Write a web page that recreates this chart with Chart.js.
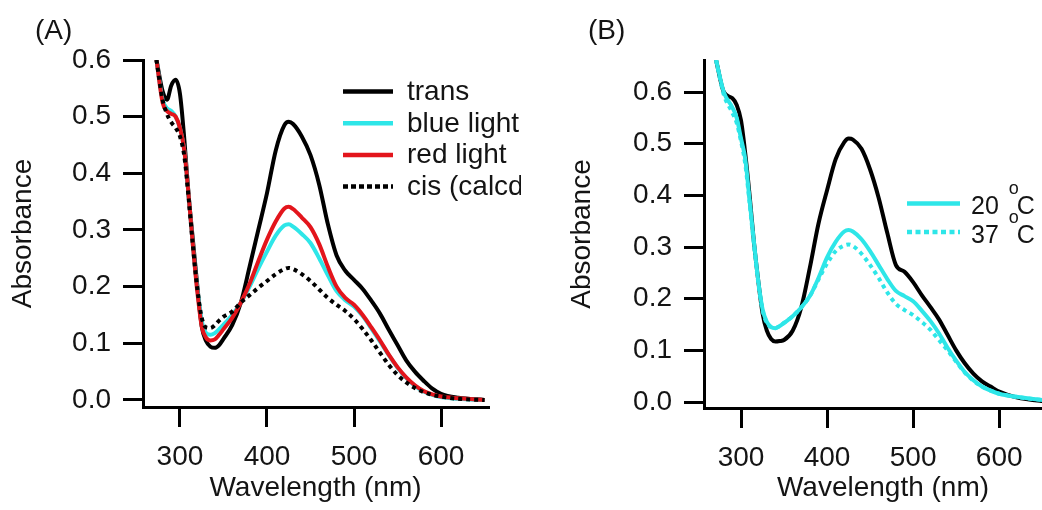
<!DOCTYPE html>
<html>
<head>
<meta charset="utf-8">
<script src="https://cdn.jsdelivr.net/npm/chart.js@4"></script>
<style>
  html, body { margin: 0; padding: 0; background: #fff; overflow: hidden; }
  body { width: 1042px; height: 510px; position: relative; }
  .panel { position: absolute; top: 0; height: 510px; }
  #wrapA { left: 0; width: 521px; }
  #wrapB { left: 521px; width: 541px; }
</style>
</head>
<body>
<div class="panel" id="wrapA"><canvas id="chartA"></canvas></div>
<div class="panel" id="wrapB"><canvas id="chartB"></canvas></div>
<script>
// panel (A): spectra after light treatment
var wavelengthA = [273, 280, 285, 290, 295, 300, 305, 310, 315, 320, 325, 330, 335, 340, 345, 350, 360, 370, 380, 390, 400, 410, 420, 425, 430, 440, 450, 460, 470, 480, 490, 500, 510, 520, 530, 540, 550, 560, 570, 580, 590, 600, 620, 650];
var transA     = [0.60, 0.545, 0.53, 0.555, 0.565, 0.54, 0.46, 0.36, 0.28, 0.20, 0.13, 0.104, 0.094, 0.092, 0.097, 0.108, 0.132, 0.172, 0.235, 0.30, 0.365, 0.44, 0.485, 0.491, 0.487, 0.465, 0.432, 0.38, 0.31, 0.255, 0.228, 0.212, 0.196, 0.175, 0.152, 0.124, 0.097, 0.07, 0.05, 0.034, 0.02, 0.011, 0.004, 0.0];
var blueLightA = [0.60, 0.53, 0.515, 0.51, 0.50, 0.48, 0.44, 0.36, 0.27, 0.195, 0.14, 0.118, 0.115, 0.118, 0.125, 0.133, 0.15, 0.172, 0.20, 0.232, 0.262, 0.29, 0.308, 0.31, 0.306, 0.293, 0.277, 0.25, 0.22, 0.192, 0.176, 0.165, 0.148, 0.126, 0.103, 0.079, 0.057, 0.039, 0.025, 0.015, 0.009, 0.005, 0.002, 0.0];
var redLightA  = [0.60, 0.525, 0.51, 0.505, 0.50, 0.48, 0.44, 0.36, 0.27, 0.19, 0.13, 0.11, 0.105, 0.107, 0.115, 0.125, 0.145, 0.172, 0.205, 0.245, 0.283, 0.315, 0.338, 0.341, 0.337, 0.322, 0.305, 0.275, 0.235, 0.20, 0.18, 0.168, 0.15, 0.128, 0.105, 0.08, 0.058, 0.04, 0.026, 0.016, 0.01, 0.006, 0.003, 0.0];
var cisCalcdA  = [0.60, 0.53, 0.505, 0.49, 0.48, 0.465, 0.43, 0.355, 0.27, 0.195, 0.145, 0.128, 0.127, 0.132, 0.14, 0.147, 0.156, 0.172, 0.185, 0.198, 0.21, 0.222, 0.231, 0.233, 0.231, 0.222, 0.21, 0.195, 0.18, 0.168, 0.157, 0.143, 0.125, 0.105, 0.083, 0.062, 0.044, 0.031, 0.021, 0.014, 0.009, 0.006, 0.002, 0.0];

// panel (B): temperature
var wavelengthB = [271, 280, 290, 295, 300, 305, 310, 315, 320, 325, 330, 335, 340, 345, 350, 360, 370, 380, 390, 400, 410, 420, 425, 430, 440, 450, 460, 470, 480, 490, 500, 510, 520, 530, 540, 550, 560, 570, 580, 590, 600, 620, 650, 660, 675];
var transB  = [0.662, 0.60, 0.588, 0.575, 0.545, 0.48, 0.40, 0.31, 0.235, 0.172, 0.138, 0.122, 0.117, 0.118, 0.12, 0.138, 0.183, 0.26, 0.345, 0.41, 0.47, 0.503, 0.51, 0.508, 0.49, 0.45, 0.395, 0.327, 0.265, 0.252, 0.232, 0.207, 0.184, 0.16, 0.13, 0.10, 0.075, 0.055, 0.04, 0.03, 0.02, 0.009, 0.002, 0.001, 0.0];
var temp20B = [0.662, 0.60, 0.57, 0.55, 0.51, 0.47, 0.39, 0.31, 0.235, 0.18, 0.155, 0.145, 0.143, 0.147, 0.153, 0.166, 0.183, 0.205, 0.24, 0.28, 0.31, 0.33, 0.333, 0.33, 0.315, 0.292, 0.265, 0.238, 0.215, 0.205, 0.195, 0.177, 0.157, 0.133, 0.105, 0.08, 0.058, 0.042, 0.03, 0.022, 0.016, 0.01, 0.004, 0.003, 0.002];
var temp37B = [0.662, 0.595, 0.56, 0.54, 0.505, 0.46, 0.385, 0.305, 0.232, 0.178, 0.153, 0.145, 0.143, 0.147, 0.153, 0.166, 0.183, 0.205, 0.237, 0.268, 0.292, 0.303, 0.305, 0.302, 0.287, 0.265, 0.24, 0.212, 0.19, 0.178, 0.168, 0.155, 0.14, 0.12, 0.10, 0.078, 0.057, 0.041, 0.03, 0.022, 0.016, 0.01, 0.004, 0.003, 0.002];

var xTicks = [300, 400, 500, 600];
var yTicks = [0, 0.1, 0.2, 0.3, 0.4, 0.5, 0.6];

var FONT = '"Liberation Sans", Arial, sans-serif';
var INK = '#141414';
var CYAN = '#2ee6e8';
var RED = '#e3151c';

function pts(xs, ys) {
    return xs.map(function (x, i) { return { x: x, y: ys[i] }; });
}

// draws the panel letter and an in-plot legend
var decor = {
    id: 'decor',
    afterDraw: function (chart, args, opts) {
        var ctx = chart.ctx;
        ctx.save();
        ctx.fillStyle = INK;
        ctx.font = '28px ' + FONT;
        ctx.textBaseline = 'alphabetic';
        ctx.fillText(opts.panel, opts.panelX, opts.panelY);

        var lg = opts.legend;
        lg.items.forEach(function (idx, row) {
            var ds = chart.data.datasets[idx];
            var y = lg.y + row * lg.gap;
            ctx.save();
            ctx.strokeStyle = ds.borderColor;
            ctx.lineWidth = 4.5;
            ctx.setLineDash(ds.borderDash ? lg.dash : []);
            ctx.beginPath();
            ctx.moveTo(lg.x0, y);
            ctx.lineTo(lg.x1, y);
            ctx.stroke();
            ctx.restore();

            ctx.font = lg.size + 'px ' + FONT;
            var base = y + lg.off;
            var parts = ds.label.split('°');
            if (parts.length === 2) {
                // degree sign set as a raised small "o", as in the figure
                var pre = parts[0].trim();
                ctx.fillText(pre, lg.tx, base);
                var w = ctx.measureText(pre).width;
                ctx.font = '18px ' + FONT;
                ctx.fillText('o', lg.tx + w + 10, base - 20);
                ctx.font = lg.size + 'px ' + FONT;
                ctx.fillText(parts[1], lg.tx + w + 18, base);
            } else {
                ctx.fillText(ds.label, lg.tx, base);
            }
        });
        ctx.restore();
    }
};

function buildOptions(o) {
    return {
        responsive: true,
        maintainAspectRatio: false,
        animation: false,
        layout: { padding: { left: 0, top: 60, right: o.padRight, bottom: 0 } },
        elements: { point: { radius: 0 }, line: { borderWidth: 4, cubicInterpolationMode: 'monotone' } },
        plugins: { legend: { display: false }, tooltip: { enabled: false }, decor: o.decor },
        scales: {
            x: {
                type: 'linear',
                min: o.xMin,
                max: o.xMax,
                afterBuildTicks: function (s) { s.ticks = xTicks.map(function (v) { return { value: v }; }); },
                afterFit: function (s) { s.height = o.xHeight; },
                grid: { drawOnChartArea: false, drawTicks: true, tickLength: 20, color: '#000', lineWidth: 3 },
                border: { display: true, color: '#000', width: 3 },
                ticks: { padding: 13, color: INK, font: { family: FONT, size: 28 }, maxRotation: 0 },
                title: { display: true, text: 'Wavelength (nm)', color: INK, font: { family: FONT, size: 28 }, padding: { top: 0, bottom: 5 } }
            },
            y: {
                type: 'linear',
                min: o.yMin,
                max: o.yMax,
                afterBuildTicks: function (s) { s.ticks = yTicks.map(function (v) { return { value: v }; }); },
                afterFit: function (s) { s.width = o.yWidth; },
                grid: { drawOnChartArea: false, drawTicks: true, tickLength: 20, color: '#000', lineWidth: 3 },
                border: { display: true, color: '#000', width: 3 },
                ticks: { padding: 12, color: INK, font: { family: FONT, size: 28 }, callback: function (v) { return v.toFixed(1); } },
                title: { display: true, text: 'Absorbance', color: INK, font: { family: FONT, size: 28 }, padding: { top: o.yTitlePad, bottom: 0 } }
            }
        }
    };
}

new Chart(document.getElementById('chartA'), {
    type: 'line',
    data: {
        datasets: [
            { label: 'trans', data: pts(wavelengthA, transA), borderColor: '#000', order: 4 },
            { label: 'blue light', data: pts(wavelengthA, blueLightA), borderColor: CYAN, order: 3 },
            { label: 'red light', data: pts(wavelengthA, redLightA), borderColor: RED, order: 2 },
            { label: 'cis (calcd)', data: pts(wavelengthA, cisCalcdA), borderColor: '#000', borderDash: [4, 4], order: 1 }
        ]
    },
    options: buildOptions({
        xMin: 257.5, xMax: 654, yMin: -0.0124, yMax: 0.6,
        padRight: 33, xHeight: 103, yWidth: 143, yTitlePad: 6,
        decor: {
            panel: '(A)', panelX: 35, panelY: 39,
            legend: { items: [0, 1, 2, 3], x0: 343, x1: 393, tx: 407, y: 91.5, gap: 31.7, off: 8.5, size: 28, dash: [5, 3] }
        }
    }),
    plugins: [decor]
});

new Chart(document.getElementById('chartB'), {
    type: 'line',
    data: {
        datasets: [
            { label: 'trans', data: pts(wavelengthB, transB), borderColor: '#000', order: 3 },
            { label: '20 °C', data: pts(wavelengthB, temp20B), borderColor: CYAN, order: 1 },
            { label: '37 °C', data: pts(wavelengthB, temp37B), borderColor: CYAN, borderDash: [4, 4], order: 2 }
        ]
    },
    options: buildOptions({
        xMin: 257, xMax: 673, yMin: -0.0116, yMax: 0.662,
        padRight: 0, xHeight: 102, yWidth: 183, yTitlePad: 44,
        decor: {
            panel: '(B)', panelX: 67, panelY: 39,
            legend: { items: [1, 2], x0: 386, x1: 439, tx: 450, y: 203.5, gap: 28.5, off: 10.5, size: 25, dash: [5, 3.5] }
        }
    }),
    plugins: [decor]
});
</script>
</body>
</html>
